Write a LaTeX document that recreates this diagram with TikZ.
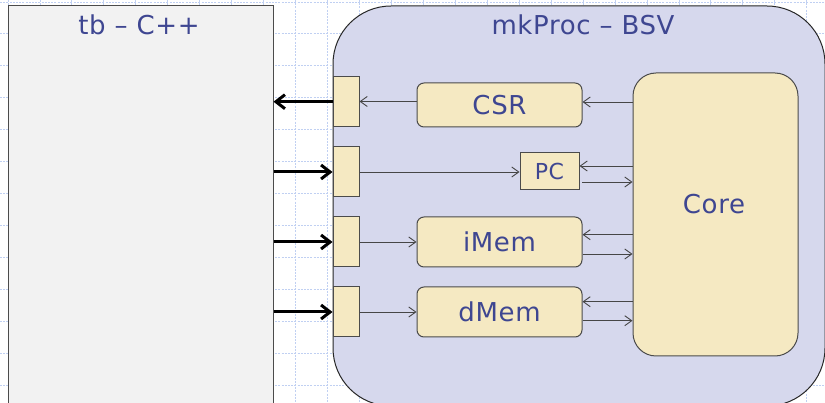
\documentclass[tikz,border=0pt]{standalone}
\usepackage{fontspec}
\setmainfont{DejaVu Sans}[LetterSpace=2.5]
\usetikzlibrary{arrows.meta}
\definecolor{gridc}{RGB}{192,208,242}
\definecolor{lav}{RGB}{214,216,237}
\definecolor{tan}{RGB}{245,233,194}
\definecolor{tbfill}{RGB}{242,242,242}
\definecolor{txt}{RGB}{62,70,145}
\definecolor{bord}{RGB}{75,75,75}
\definecolor{arrc}{RGB}{70,70,70}
\tikzset{
  box/.style={draw=bord, fill=tan, line width=1pt, inner sep=0pt, text=txt,
    font=\fontsize{26}{30}\selectfont, text height=19pt, text depth=0pt},
  port/.style={draw=bord, fill=tan, line width=1pt, inner sep=0pt,
    minimum width=26pt, minimum height=50pt},
  title/.style={text=txt, font=\fontsize{26}{30}\selectfont, inner sep=0pt, anchor=base},
  thinarr/.style={draw=arrc, line width=0.9pt, -{Straight Barb[length=7pt,width=10pt]}},
  thickarr/.style={draw=black, line width=3pt, -{Straight Barb[length=9pt,width=14pt]}},
  gridline/.style={draw=gridc, line width=0.9pt, dash pattern=on 2pt off 1.2pt}
}
\begin{document}
\begin{tikzpicture}[x=1pt,y=-1pt]
\useasboundingbox (0,0) rectangle (825,403);
\clip (0,0) rectangle (825,403);
% grid
\foreach \k in {0,...,26} {
  \draw[gridline] ({8+31.95*\k},0) -- ({8+31.95*\k},403);
}
\foreach \k in {0,...,12} {
  \draw[gridline] (0,{2+31.95*\k}) -- (825,{2+31.95*\k});
}
% testbench
\node[draw=bord, fill=tbfill, line width=1pt, inner sep=0pt,
      minimum width=265pt, minimum height=404pt] (tb) at (140.5,208) {};
\node[title] (tbtitle) at (139,34.3) {tb – C++};
% processor
\node[draw=black!85, fill=lav, line width=1pt, inner sep=0pt, rounded corners=58pt,
      minimum width=492pt, minimum height=400pt] (proc) at (579,206) {};
\node[title] (proctitle) at (583,34.3) {mkProc – BSV};
% ports
\node[port] (p1) at (346,101.5) {};
\node[port] (p2) at (346,172) {};
\node[port] (p3) at (346,242) {};
\node[port] (p4) at (346,312) {};
% inner boxes
\node[box, rounded corners=7pt, minimum width=165pt, minimum height=44pt] (CSR) at (499.5,105) {CSR};
\node[box, minimum width=59pt, minimum height=37pt, font=\fontsize{22}{25}\selectfont, text height=16pt] (PC) at (549.5,171.5) {PC};
\node[box, rounded corners=7pt, minimum width=165pt, minimum height=50pt] (iMem) at (499.5,242) {iMem};
\node[box, rounded corners=7pt, minimum width=165pt, minimum height=50pt] (dMem) at (499.5,312) {dMem};
\node[box, rounded corners=23pt, minimum width=165pt, minimum height=283pt] (core) at (715.5,214.5) {};
\node[title] (coretext) at (714,213.3) {Core};
% thin connectors
\draw[thinarr] (core.west |- 0,102) -- (CSR.east |- 0,102);
\draw[thinarr] (CSR.west |- 0,101.5) -- (p1.east |- 0,101.5);
\draw[thinarr] (p2.east) -- (PC.west |- p2.east);
\draw[thinarr] (core.west |- 0,166) -- (PC.east |- 0,166);
\draw[thinarr] ([xshift=2.5pt]PC.east |- 0,182) -- (core.west |- 0,182);
\draw[thinarr] (p3.east) -- (iMem.west |- p3.east);
\draw[thinarr] (core.west |- 0,234.7) -- (iMem.east |- 0,234.7);
\draw[thinarr] (iMem.east |- 0,254) -- (core.west |- 0,254);
\draw[thinarr] (p4.east) -- (dMem.west |- p4.east);
\draw[thinarr] (core.west |- 0,301.7) -- (dMem.east |- 0,301.7);
\draw[thinarr] (dMem.east |- 0,320.7) -- (core.west |- 0,320.7);
% thick connectors
\draw[thickarr] (p1.west |- 0,101.7) -- (tb.east |- 0,101.7);
\draw[thickarr] (tb.east |- p2.west) -- (p2.west);
\draw[thickarr] (tb.east |- p3.west) -- (p3.west);
\draw[thickarr] (tb.east |- p4.west) -- (p4.west);
\end{tikzpicture}
\end{document}
